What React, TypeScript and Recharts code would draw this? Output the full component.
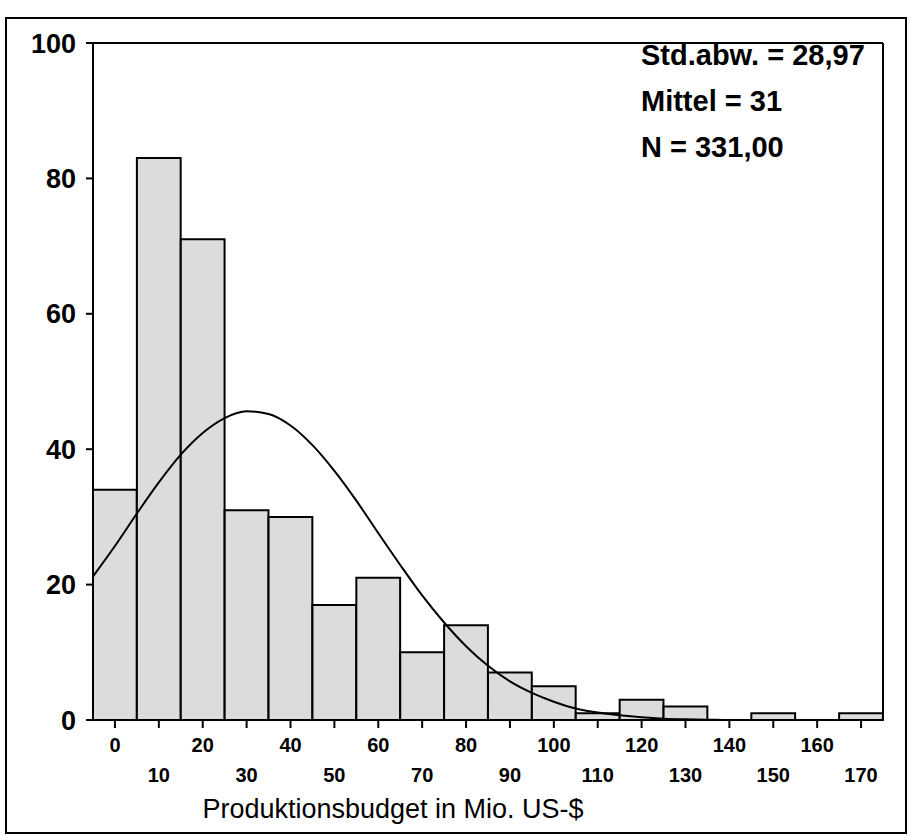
import {
  ComposedChart,
  Bar,
  Line,
  XAxis,
  YAxis,
  ReferenceLine,
} from "recharts"

// Histogramm: Produktionsbudget (Mio. US-$), Klassenbreite 10
const binCenters = [0, 10, 20, 30, 40, 50, 60, 70, 80, 90, 100, 110, 120, 130, 140, 150, 160, 170]
const counts = [34, 83, 71, 31, 30, 17, 21, 10, 14, 7, 5, 1, 3, 2, 0, 1, 0, 1]

const curveX = [
  -5, 0, 5, 10, 15, 20, 25, 30, 35, 40, 45, 50, 55, 60, 65, 70, 75, 80, 85, 90, 95, 100,
  105, 110, 115, 120, 125, 130, 135, 140, 145, 150, 155, 160, 165, 170, 175,
]
const curveY = [
  21.2, 25.7, 30.5, 35.1, 39.2, 42.4, 44.6, 45.6, 45.2, 43.5, 40.6, 36.8, 32.4, 27.6, 22.9,
  18.4, 14.4, 10.9, 8.0, 5.7, 4.0, 2.7, 1.7, 1.1, 0.7, 0.4, 0.2, 0.1, 0.05, 0, 0, 0, 0, 0, 0,
  0, 0,
]

const yTicks = [0, 20, 40, 60, 80, 100]
const stats = ["Std.abw. = 28,97", "Mittel = 31", "N = 331,00"]
const xTitle = "Produktionsbudget in Mio. US-$"

const binData = binCenters.map((x, i) => ({ x, count: counts[i] }))
const curveData = curveX.map((x, i) => ({ x, curve: curveY[i] }))

const FONT = "'Liberation Sans', Arial, Helvetica, sans-serif"
const PLOT_W = 790
// etwas kleiner als die Klassenbreite, sonst schrumpft recharts die Balken auf 90 %
const BAR_W = PLOT_W / binCenters.length - 0.1

function BinTick({ x, y, payload }: any) {
  const odd = Math.round(payload.value / 10) % 2 === 1
  return (
    <text
      x={x}
      y={y + (odd ? 52 : 22)}
      textAnchor="middle"
      fontSize={20}
      fontWeight="bold"
      fontFamily={FONT}
      fill="#000"
    >
      {payload.value}
    </text>
  )
}

export default function App() {
  return (
    <div
      style={{
        position: "absolute",
        left: 0,
        top: 0,
        width: 911,
        height: 835,
        background: "#fff",
        fontFamily: FONT,
        overflow: "hidden",
      }}
    >
      <div
        style={{
          position: "absolute",
          left: 5,
          top: 17,
          width: 898,
          height: 813,
          border: "2px solid #000",
        }}
      />
      <ComposedChart
        width={911}
        height={835}
        data={binData}
        barCategoryGap={0}
        barGap={0}
        margin={{ top: 43, right: 28, bottom: 0, left: 0 }}
      >
        <XAxis
          xAxisId="bins"
          dataKey="x"
          type="number"
          domain={[-5, 175]}
          ticks={binCenters}
          interval={0}
          height={115}
          tickSize={8}
          tickMargin={2}
          axisLine={{ stroke: "#000", strokeWidth: 2 }}
          tickLine={{ stroke: "#000", strokeWidth: 2 }}
          tick={<BinTick />}
          label={{
            value: xTitle,
            position: "insideBottom",
            offset: 17,
            dx: -95,
            fontSize: 27,
            fill: "#000",
            fontFamily: FONT,
          }}
        />
        <XAxis
          xAxisId="curve"
          dataKey="x"
          type="number"
          domain={[-5, 175]}
          height={115}
          hide
        />
        <YAxis
          type="number"
          domain={[0, 100]}
          ticks={yTicks}
          width={93}
          tickSize={7}
          tickMargin={10}
          axisLine={{ stroke: "#000", strokeWidth: 2 }}
          tickLine={{ stroke: "#000", strokeWidth: 2 }}
          tick={{ fontSize: 27, fontWeight: "bold", fill: "#000", fontFamily: FONT }}
        />
        <ReferenceLine xAxisId="bins" y={100} stroke="#000" strokeWidth={2} />
        <ReferenceLine xAxisId="bins" x={175} stroke="#000" strokeWidth={2} />
        <Bar
          xAxisId="bins"
          dataKey="count"
          barSize={BAR_W}
          fill="#dcdcdc"
          stroke="#000"
          strokeWidth={2}
          isAnimationActive={false}
        />
        <Line
          xAxisId="curve"
          data={curveData}
          dataKey="curve"
          type="monotone"
          stroke="#000"
          strokeWidth={2}
          dot={false}
          activeDot={false}
          isAnimationActive={false}
        />
      </ComposedChart>
      {stats.map((s, i) => (
        <div
          key={s}
          style={{
            position: "absolute",
            left: 641,
            top: 41 + i * 46,
            fontSize: 29,
            lineHeight: 1,
            fontWeight: "bold",
            color: "#000",
            whiteSpace: "nowrap",
          }}
        >
          {s}
        </div>
      ))}
    </div>
  )
}
